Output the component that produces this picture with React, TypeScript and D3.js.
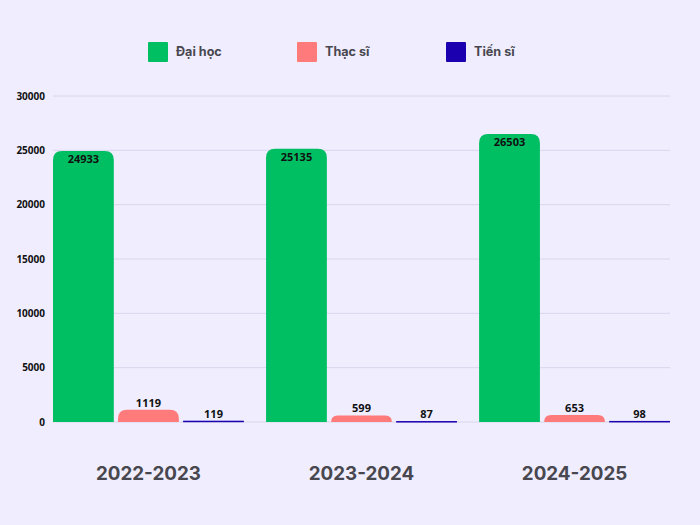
import React from "react";
import * as d3 from "d3";

const categories = ["2022-2023", "2023-2024", "2024-2025"];
const seriesNames = ["Đại học", "Thạc sĩ", "Tiến sĩ"];
const daiHoc = [24933, 25135, 26503];
const thacSi = [1119, 599, 653];
const tienSi = [119, 87, 98];
const yTicks = [0, 5000, 10000, 15000, 20000, 25000, 30000];
const colors = ["#00BF63", "#FF7B7B", "#1A00AE"];

const W = 700, H = 525;
const left = 53, right = 670, top = 96, bottom = 422;

function roundTopRect(x: number, y: number, w: number, h: number, r: number) {
  const rr = Math.min(r, h, w / 2);
  if (h <= 0) return "";
  return `M${x},${y + h}V${y + rr}Q${x},${y} ${x + rr},${y}H${x + w - rr}Q${x + w},${y} ${x + w},${y + rr}V${y + h}Z`;
}

export default function App() {
  const series = [daiHoc, thacSi, tienSi];
  const x0 = d3.scaleBand<string>().domain(categories).range([left, right]).paddingInner(0.104).paddingOuter(0);
  const x1 = d3.scaleBand<string>().domain(seriesNames).range([0, x0.bandwidth()]).paddingInner(0.065);
  const y = d3.scaleLinear().domain([0, 30000]).range([bottom, top]);
  const font = "'Open Sans', 'Noto Sans', sans-serif";
  const font2 = "Inter, 'Noto Sans', sans-serif";
  const legendX = [148, 297, 446];

  return (
    <svg width={W} height={H} style={{ position: "absolute", left: 0, top: 0, display: "block" }}>
      <rect x={0} y={0} width={W} height={H} fill="#EFEDFE" />
      {yTicks.map((t) => (
        <g key={t}>
          <line x1={left} x2={right} y1={y(t)} y2={y(t)} stroke="#D9D6EC" strokeWidth={1} />
          <text x={45} y={y(t)} dy="0.35em" textAnchor="end" fontFamily={font} fontWeight={700} fontSize={10} fill="#111">
            {t}
          </text>
        </g>
      ))}
      {categories.map((c, ci) => (
        <g key={c} transform={`translate(${x0(c)},0)`}>
          {seriesNames.map((s, si) => {
            const v = series[si][ci];
            const bx = x1(s)!;
            const bw = x1.bandwidth();
            const by = y(v);
            const bh = bottom - by;
            const inside = v > 5000;
            return (
              <g key={s}>
                {bh < 3 ? (
                  <rect x={bx} y={by} width={bw} height={Math.max(bh, 1.5)} fill={colors[si]} />
                ) : (
                  <path d={roundTopRect(bx, by, bw, bh, 9)} fill={colors[si]} />
                )}
                <text
                  x={bx + bw / 2}
                  y={inside ? by + 12 : by - 3}
                  textAnchor="middle"
                  fontFamily={font}
                  fontWeight={700}
                  fontSize={11}
                  fill="#111"
                >
                  {v}
                </text>
              </g>
            );
          })}
          <text
            x={x0.bandwidth() / 2}
            y={480}
            textAnchor="middle"
            fontFamily={font2}
            fontWeight={700}
            fontSize={18.8}
            fill="#48474F"
          >
            {c}
          </text>
        </g>
      ))}
      {seriesNames.map((s, i) => (
        <g key={s}>
          <rect x={legendX[i]} y={42} width={20} height={20} rx={1} fill={colors[i]} />
          <text x={legendX[i] + 28} y={52} dy="0.35em" fontFamily={font2} fontWeight={700} fontSize={12.6} fill="#48474F">
            {s}
          </text>
        </g>
      ))}
    </svg>
  );
}
